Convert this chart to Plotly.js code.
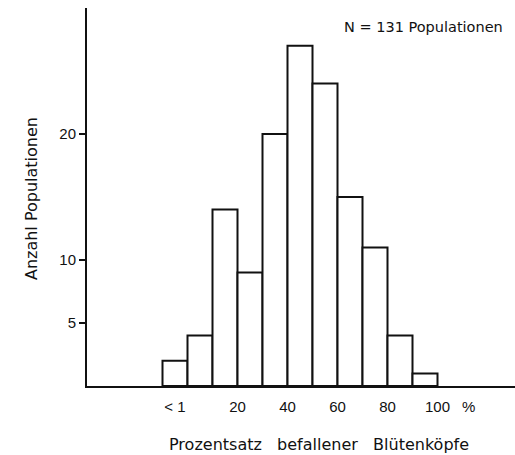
<!DOCTYPE html>
<html>
<head>
<meta charset="utf-8">
<script src="https://cdn.plot.ly/plotly-3.0.1.min.js"></script>
<style>html,body{margin:0;padding:0;background:#fff;}#chart{width:515px;height:455px;}</style>
</head>
<body>
<div id="chart"></div>
<script>
// Prozentsatz befallener Blütenköpfe (classes) and number of populations
var categories = ["<1", "1–10", "10–20", "20–30", "30–40", "40–50", "50–60", "60–70", "70–80", "80–90", "90–100"];
var counts = [2, 4, 14, 9, 20, 27, 24, 15, 11, 4, 1];
var xTickLabels = ["< 1", "20", "40", "60", "80", "100", "%"];
var yTickValues = [5, 10, 20];

var idx = categories.map(function (c, i) { return i; });
// tick positions derived from class index (boundaries between classes)
var xTickVals = [0, 2.5, 4.5, 6.5, 8.5, 10.5, 11.75];

var font = "Liberation Sans, Arial, sans-serif";
var titleFont = "DejaVu Sans, sans-serif";
var ink = "#111111";

var trace = {
  type: "bar",
  x: idx,
  y: counts,
  width: 1,
  marker: { color: "#ffffff", line: { color: ink, width: 2 } },
  text: categories,
  textposition: "none",
  hoverinfo: "text+y"
};

var layout = {
  width: 515, height: 455,
  margin: { l: 87, r: 0, t: 8, b: 69 },
  paper_bgcolor: "#ffffff", plot_bgcolor: "#ffffff",
  showlegend: false,
  font: { family: font, size: 15, color: ink },
  xaxis: {
    range: [-3.52, 13.6],
    tickvals: xTickVals, ticktext: xTickLabels,
    ticks: "", showgrid: false, zeroline: false,
    showline: true, linecolor: ink, linewidth: 2,
    ticklabelstandoff: 6,
    tickfont: { family: font, size: 15, color: ink },
    fixedrange: true
  },
  yaxis: {
    range: [0, 30],
    tickvals: yTickValues,
    ticks: "outside", ticklen: 6, tickwidth: 2, tickcolor: ink,
    showgrid: false, zeroline: false,
    showline: true, linecolor: ink, linewidth: 2,
    tickfont: { family: font, size: 15, color: ink },
    fixedrange: true
  },
  annotations: [{
    text: "N = 131 Populationen",
    xref: "paper", yref: "paper",
    x: 0.977, y: 0.95, xanchor: "right", yanchor: "middle",
    showarrow: false,
    font: { family: titleFont, size: 14.5, color: ink }
  }, {
    text: "Prozentsatz\u00a0\u00a0\u00a0befallener\u00a0\u00a0\u00a0Blütenköpfe",
    xref: "paper", yref: "paper",
    x: 0.542, y: -0.155, xanchor: "center", yanchor: "middle",
    showarrow: false,
    font: { family: titleFont, size: 16, color: ink }
  }, {
    text: "Anzahl Populationen",
    xref: "paper", yref: "paper",
    x: -0.131, y: 0.497, xanchor: "center", yanchor: "middle",
    textangle: -90,
    showarrow: false,
    font: { family: titleFont, size: 16, color: ink }
  }]
};

Plotly.newPlot("chart", [trace], layout, { displayModeBar: false, staticPlot: true });
</script>
</body>
</html>
